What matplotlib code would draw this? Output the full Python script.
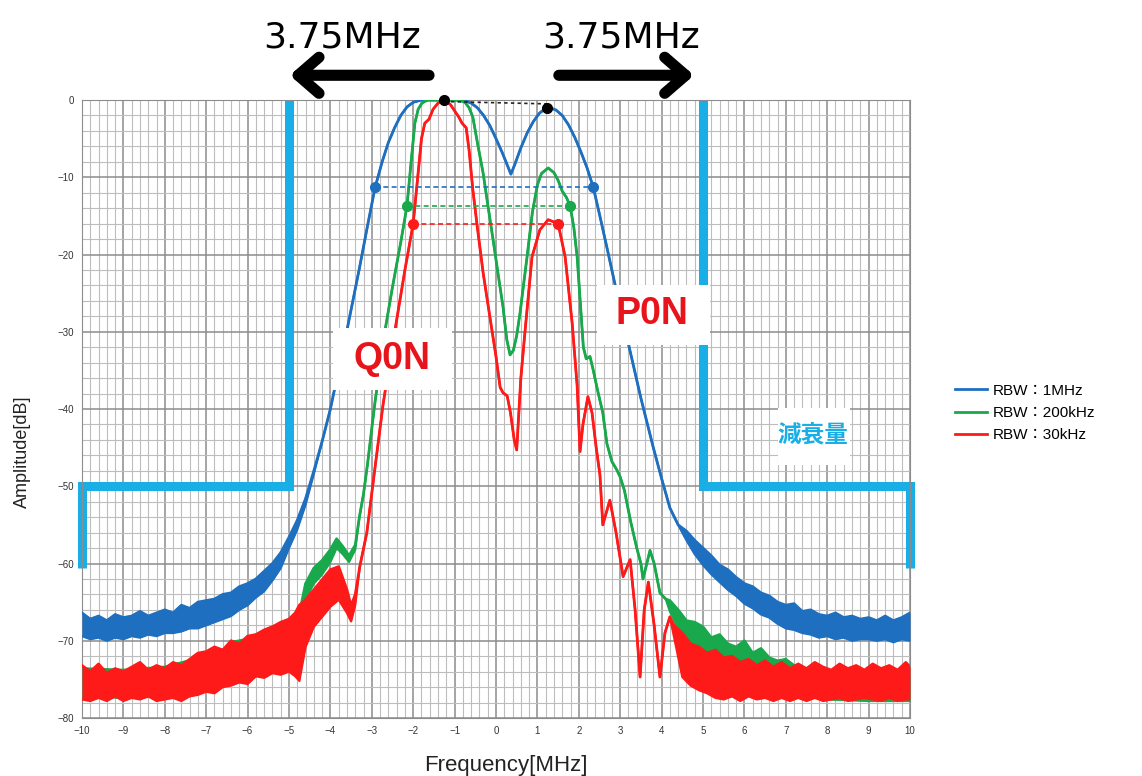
import matplotlib
matplotlib.use("Agg")
import matplotlib.pyplot as plt
from matplotlib.patches import Rectangle
from matplotlib.ticker import MultipleLocator
import numpy as np

plt.rcParams['font.family'] = ['Liberation Sans', 'Noto Sans CJK JP', 'DejaVu Sans']

# ---- data, x in MHz, y in dB
# noisy stretches are (x, upper edge, lower edge) of the noise band, clean stretches are (x, y)

blue_left = [(-10, -66.4, -69.4), (-9.8, -67.2, -69.8), (-9.6, -66.8, -69.6), (-9.4, -67.4, -70.0), (-9.2, -66.6, -69.6),
             (-9.0, -67.0, -69.8), (-8.8, -66.8, -69.4), (-8.6, -66.2, -69.6), (-8.4, -66.8, -69.2), (-8.2, -66.4, -69.4),
             (-8.0, -66.0, -69.0), (-7.8, -66.4, -69.0), (-7.6, -65.4, -68.8), (-7.4, -65.8, -68.4), (-7.2, -65.0, -68.4),
             (-7.0, -64.8, -68.0), (-6.8, -64.6, -67.6), (-6.6, -64.0, -67.2), (-6.4, -63.8, -66.8), (-6.2, -63.0, -66.0),
             (-6.0, -62.6, -65.4), (-5.8, -62.0, -64.4), (-5.6, -61.0, -63.6), (-5.4, -60.0, -62.2), (-5.2, -58.6, -60.6),
             (-5.0, -56.6, -58.0), (-4.8, -54.4, -55.6), (-4.6, -51.6, -52.4), (-4.4, -48.0, -48.4)]
blue_core = [(-4.2, -44.2), (-4.0, -40.0), (-3.6, -29.8), (-3.3, -21.8), (-3.1, -16.2), (-2.92, -11.3), (-2.75, -8.0),
             (-2.6, -5.5), (-2.45, -3.6), (-2.3, -2.0), (-2.15, -0.9), (-2.0, -0.3), (-1.8, 0.0), (-0.8, 0.0), (-0.6, -0.4),
             (-0.45, -1.0), (-0.3, -2.0), (-0.15, -3.3), (0.0, -5.0), (0.15, -6.8), (0.3, -8.8), (0.36, -9.6), (0.45, -8.4),
             (0.6, -6.2), (0.75, -4.3), (0.9, -2.8), (1.05, -1.7), (1.2, -1.1), (1.3, -1.0), (1.45, -1.3), (1.6, -2.0),
             (1.75, -3.2), (1.9, -4.8), (2.05, -6.7), (2.2, -8.8), (2.35, -11.3), (2.5, -14.8), (2.7, -19.6), (2.9, -24.5),
             (3.2, -31.6), (3.5, -38.6), (3.8, -45.0), (4.0, -49.0), (4.2, -52.8), (4.4, -55.0)]
blue_right = [(4.6, -55.8, -57.0), (4.8, -57.0, -58.8), (5.0, -58.0, -60.2), (5.2, -59.0, -61.4), (5.4, -60.2, -62.4),
              (5.6, -60.8, -63.4), (5.8, -61.8, -64.2), (6.0, -62.6, -65.2), (6.2, -63.0, -65.8), (6.4, -63.8, -66.6),
              (6.6, -64.2, -67.0), (6.8, -65.0, -67.8), (7.0, -65.4, -68.4), (7.2, -65.2, -68.6), (7.4, -66.2, -69.0),
              (7.6, -66.0, -69.2), (7.8, -66.6, -69.6), (8.0, -66.8, -69.4), (8.2, -66.4, -69.8), (8.4, -67.0, -69.6),
              (8.6, -66.8, -70.0), (8.8, -67.2, -69.8), (9.0, -67.0, -69.8), (9.2, -67.4, -70.0), (9.4, -66.8, -69.8),
              (9.6, -67.4, -70.2), (9.8, -67.0, -69.8), (10, -66.4, -70.0)]

green_left = [(-10, -73.6, -77.2), (-9, -73.8, -77.4), (-8, -73.4, -77.2), (-7, -72.0, -76.0), (-6.5, -71.0, -75.0),
              (-6.4, -70.2, -74.8), (-6.0, -69.8, -73.6), (-5.5, -68.4, -72.0), (-5.0, -67.4, -70.6), (-4.8, -66.2, -69.2),
              (-4.7, -65.2, -67.4), (-4.6, -62.6, -64.6), (-4.4, -60.6, -62.6), (-4.2, -59.6, -61.4), (-4.0, -58.2, -59.8),
              (-3.85, -56.8, -58.0), (-3.7, -57.8, -58.8), (-3.55, -59.0, -59.8), (-3.4, -57.6, -58.2)]
green_core = [(-3.3, -54.0), (-3.2, -51.0), (-3.1, -47.0), (-3.0, -42.5), (-2.92, -39.0), (-2.8, -34.5), (-2.68, -29.8),
              (-2.5, -24.2), (-2.3, -18.4), (-2.15, -13.7), (-2.05, -8.0), (-1.96, -3.0), (-1.88, -1.2), (-1.79, -0.4),
              (-1.65, 0.0), (-0.9, 0.0), (-0.75, -0.3), (-0.65, -1.0), (-0.56, -2.2), (-0.45, -5.5), (-0.31, -9.5),
              (-0.2, -13.5), (-0.07, -18.1), (0.05, -22.5), (0.17, -26.8), (0.26, -31.0), (0.34, -33.0), (0.42, -32.4),
              (0.5, -30.5), (0.58, -27.6), (0.75, -20.3), (0.88, -14.5), (1.0, -11.0), (1.1, -9.5), (1.26, -8.8),
              (1.4, -9.4), (1.5, -10.4), (1.6, -11.8), (1.7, -12.6), (1.79, -13.7), (1.88, -16.5), (1.96, -20.3),
              (2.04, -26.5), (2.11, -32.0), (2.18, -33.5), (2.27, -33.2), (2.35, -35.0), (2.45, -37.5), (2.58, -40.5),
              (2.68, -44.5), (2.8, -46.8), (2.92, -47.9), (3.0, -48.8), (3.1, -50.5), (3.25, -54.5), (3.4, -58.0),
              (3.5, -60.0), (3.55, -62.0), (3.62, -60.5), (3.72, -58.3), (3.82, -60.0), (3.96, -63.8), (4.1, -64.6)]
green_right = [(4.2, -64.8, -66.2), (4.4, -66.0, -68.4), (4.6, -67.4, -70.0), (4.8, -67.6, -71.4), (5.0, -68.2, -72.4),
               (5.2, -69.6, -73.0), (5.4, -69.2, -73.4), (5.6, -70.4, -73.8), (5.8, -70.8, -74.0), (6.0, -70.0, -74.2),
               (6.2, -71.6, -74.6), (6.4, -71.0, -75.0), (6.6, -72.2, -75.4), (6.8, -72.6, -76.0), (7.0, -72.4, -76.4),
               (7.3, -73.6, -77.0), (7.6, -74.0, -77.2), (8.0, -74.4, -77.6), (9.0, -74.6, -77.8), (10, -74.4, -77.8)]

red_left = [(-10, -73.2, -77.6), (-9.8, -74.0, -77.8), (-9.6, -73.0, -77.4), (-9.4, -74.2, -77.8), (-9.2, -73.6, -77.2),
            (-9.0, -74.0, -77.8), (-8.8, -73.4, -77.4), (-8.6, -72.8, -77.6), (-8.4, -73.8, -77.2), (-8.2, -73.2, -77.8),
            (-8.0, -73.6, -77.6), (-7.8, -72.8, -77.4), (-7.6, -73.2, -77.8), (-7.4, -72.4, -77.2), (-7.2, -71.6, -77.0),
            (-7.0, -71.4, -76.6), (-6.8, -70.8, -76.8), (-6.6, -71.2, -76.0), (-6.4, -70.0, -75.8), (-6.2, -70.4, -75.4),
            (-6.0, -69.4, -75.6), (-5.8, -69.2, -74.6), (-5.6, -68.6, -74.8), (-5.4, -68.2, -74.2), (-5.2, -67.6, -74.4),
            (-5.0, -67.2, -74.0), (-4.85, -66.4, -74.6), (-4.75, -65.4, -75.2), (-4.6, -64.7, -70.8), (-4.4, -63.4, -68.2),
            (-4.2, -62.1, -66.9), (-4.0, -60.8, -65.6), (-3.8, -60.4, -64.7), (-3.6, -63.4, -66.4), (-3.5, -65.5, -67.5),
            (-3.4, -64.0, -65.4)]
red_core = [(-3.29, -60.4), (-3.12, -56.0), (-2.97, -49.6), (-2.73, -39.5), (-2.6, -35.0), (-2.44, -29.8), (-2.2, -22.0),
            (-2.0, -16.0), (-1.9, -10.5), (-1.8, -5.0), (-1.72, -3.0), (-1.62, -2.5), (-1.52, -1.2), (-1.4, -0.4),
            (-1.25, 0.0), (-1.1, -0.6), (-1.0, -1.4), (-0.9, -2.2), (-0.82, -3.0), (-0.72, -3.6), (-0.65, -6.5),
            (-0.56, -11.6), (-0.45, -16.5), (-0.31, -22.4), (-0.15, -28.0), (0.0, -33.2), (0.1, -37.2), (0.17, -37.9),
            (0.27, -38.3), (0.35, -40.5), (0.44, -44.0), (0.5, -45.3), (0.6, -36.0), (0.7, -30.0), (0.87, -20.3),
            (1.06, -16.8), (1.26, -15.5), (1.5, -16.0), (1.67, -20.3), (1.84, -28.9), (1.96, -37.0), (2.03, -45.5),
            (2.1, -42.0), (2.22, -38.4), (2.32, -40.5), (2.42, -45.0), (2.51, -48.5), (2.58, -55.0), (2.75, -51.8),
            (2.9, -56.0), (3.07, -61.7), (3.24, -59.5), (3.36, -66.0), (3.48, -74.7), (3.58, -66.0), (3.68, -62.4),
            (3.82, -68.0), (3.96, -74.7), (4.08, -69.0), (4.2, -66.9)]
red_right = [(4.3, -68.0, -69.5), (4.5, -69.0, -74.7), (4.7, -70.4, -75.8), (4.9, -70.8, -76.4), (5.1, -71.6, -76.8),
             (5.3, -71.2, -77.4), (5.5, -72.2, -77.6), (5.7, -72.0, -77.2), (5.9, -72.8, -77.8), (6.1, -72.4, -77.2),
             (6.3, -73.2, -77.6), (6.5, -72.6, -77.4), (6.7, -73.4, -77.8), (6.9, -72.8, -77.4), (7.1, -73.6, -77.8),
             (7.3, -73.0, -77.4), (7.5, -73.6, -77.8), (7.7, -72.8, -77.4), (7.9, -73.4, -77.8), (8.1, -73.8, -77.6),
             (8.3, -73.0, -77.4), (8.5, -73.6, -77.8), (8.7, -73.2, -77.6), (8.9, -73.8, -77.4), (9.1, -73.0, -77.6),
             (9.3, -73.6, -77.8), (9.5, -73.2, -77.4), (9.7, -73.8, -77.8), (9.9, -72.8, -77.6), (10, -73.4, -77.6)]

# marker dots and the dashed levels between them
blue_mk_x,  blue_mk_y  = [-2.92, 2.35], [-11.3, -11.3]
green_mk_x, green_mk_y = [-2.15, 1.79], [-13.7, -13.7]
red_mk_x,   red_mk_y   = [-2.0, 1.5],   [-16.0, -16.0]
peak_mk_x,  peak_mk_y  = [-1.25, 1.23], [0.0, -1.0]

# spectrum mask (減衰量)
mask_l_x, mask_l_y = [-10, -10, -5, -5], [-60.6, -50, -50, 0]
mask_r_x, mask_r_y = [5, 5, 10, 10], [0, -50, -50, -60.6]

labels = ['RBW：1MHz', 'RBW：200kHz', 'RBW：30kHz']
BLUE, GREEN, RED = '#1f6fc0', '#19a84b', '#ff1a1a'
MASK = '#1aaee6'


def trace(left, core, right):
    x = [p[0] for p in left] + [p[0] for p in core] + [p[0] for p in right]
    hi = [p[1] for p in left] + [p[1] for p in core] + [p[1] for p in right]
    lo = [p[2] for p in left] + [p[1] for p in core] + [p[2] for p in right]
    return x, hi, lo


fig = plt.figure(figsize=(11.42, 7.76), dpi=100)
ax = fig.add_axes([82/1142, 58/776, 828/1142, 618/776])
ax.set_xlim(-10, 10)
ax.set_ylim(-80, 0)
ax.xaxis.set_major_locator(MultipleLocator(1))
ax.xaxis.set_minor_locator(MultipleLocator(0.2))
ax.yaxis.set_major_locator(MultipleLocator(10))
ax.yaxis.set_minor_locator(MultipleLocator(2))
ax.grid(which='major', color='#8c8c8c', lw=1.1, zorder=0)
ax.grid(which='minor', color='#bdbdbd', lw=0.8, zorder=0)
ax.set_axisbelow(True)
ax.tick_params(which='both', length=0, labelsize=7, colors='#333333', pad=6)
for s in ax.spines.values():
    s.set_color('#8c8c8c')

ax.plot(mask_l_x, mask_l_y, color=MASK, lw=6.5, solid_capstyle='butt', solid_joinstyle='miter', clip_on=False, zorder=2)
ax.plot(mask_r_x, mask_r_y, color=MASK, lw=6.5, solid_capstyle='butt', solid_joinstyle='miter', clip_on=False, zorder=2)

handles = []
for (left, core, right), col, lab in [((blue_left, blue_core, blue_right), BLUE, labels[0]),
                                      ((green_left, green_core, green_right), GREEN, labels[1]),
                                      ((red_left, red_core, red_right), RED, labels[2])]:
    xs, hi, lo = trace(left, core, right)
    ax.fill_between(xs, lo, hi, color=col, lw=0, zorder=3)
    ax.plot(xs, lo, color=col, lw=1.6, zorder=3)
    h, = ax.plot(xs, hi, color=col, lw=2.0, zorder=3, label=lab)
    handles.append(h)

ax.plot(blue_mk_x, blue_mk_y, color=BLUE, lw=1.2, ls=(0, (3, 2)), zorder=3)
ax.plot(green_mk_x, green_mk_y, color=GREEN, lw=1.2, ls=(0, (3, 2)), zorder=3)
ax.plot(red_mk_x, red_mk_y, color=RED, lw=1.2, ls=(0, (3, 2)), zorder=3)
ax.plot(peak_mk_x, [-0.2, -0.5], color='#222222', lw=1.2, ls=(0, (2, 2)), zorder=3)
ax.plot(blue_mk_x, blue_mk_y, 'o', color=BLUE, ms=7, zorder=4)
ax.plot(green_mk_x, green_mk_y, 'o', color=GREEN, ms=7, zorder=4)
ax.plot(red_mk_x, red_mk_y, 'o', color=RED, ms=7, zorder=4)
ax.plot(peak_mk_x, peak_mk_y, 'o', color='black', ms=7, zorder=4, clip_on=False)

# white label boxes over the traces
ax.add_patch(Rectangle((-3.94, -37.5), 2.88, 8.0, fc='white', ec='none', zorder=5))
ax.add_patch(Rectangle((2.44, -31.7), 2.73, 7.8, fc='white', ec='none', zorder=5))
ax.add_patch(Rectangle((6.8, -47.2), 1.76, 7.3, fc='white', ec='none', zorder=5))
ax.text(-2.51, -33.5, 'Q0N', color='#e8141c', fontsize=27, fontweight='bold', ha='center', va='center', zorder=6)
ax.text(3.77, -27.7, 'P0N', color='#e8141c', fontsize=27, fontweight='bold', ha='center', va='center', zorder=6)
ax.text(7.66, -43.3, '減衰量', color=MASK, fontsize=17, fontweight='bold', family=['Noto Sans CJK JP'],
        ha='center', va='center', zorder=6)

# 3.75MHz arrows above the plot
arrow = dict(arrowstyle='->,head_length=1.5,head_width=1.3', lw=8, color='black')
ax.annotate('', xy=(-5.05, 3.2), xytext=(-1.55, 3.2), annotation_clip=False, arrowprops=arrow)
ax.annotate('', xy=(4.85, 3.2), xytext=(1.45, 3.2), annotation_clip=False, arrowprops=arrow)
ax.text(-3.72, 8.1, '3.75MHz', fontsize=26, family='DejaVu Sans', ha='center', va='center', clip_on=False)
ax.text(3.02, 8.1, '3.75MHz', fontsize=26, family='DejaVu Sans', ha='center', va='center', clip_on=False)

fig.text(506/1142, 1 - 765/776, 'Frequency[MHz]', fontsize=16, ha='center', va='center', color='#222222')
fig.text(22/1142, 1 - 452/776, 'Amplitude[dB]', fontsize=13, rotation=90, ha='center', va='center', color='#222222')

fig.legend(handles=handles, loc='center left', bbox_to_anchor=(947/1142, 1 - 413/776), frameon=False,
           handlelength=2.1, handletextpad=0.4, labelspacing=0.55, borderpad=0,
           prop={'family': ['Liberation Sans', 'Noto Sans CJK JP'], 'size': 11})

fig.savefig('out.png', dpi=100)
